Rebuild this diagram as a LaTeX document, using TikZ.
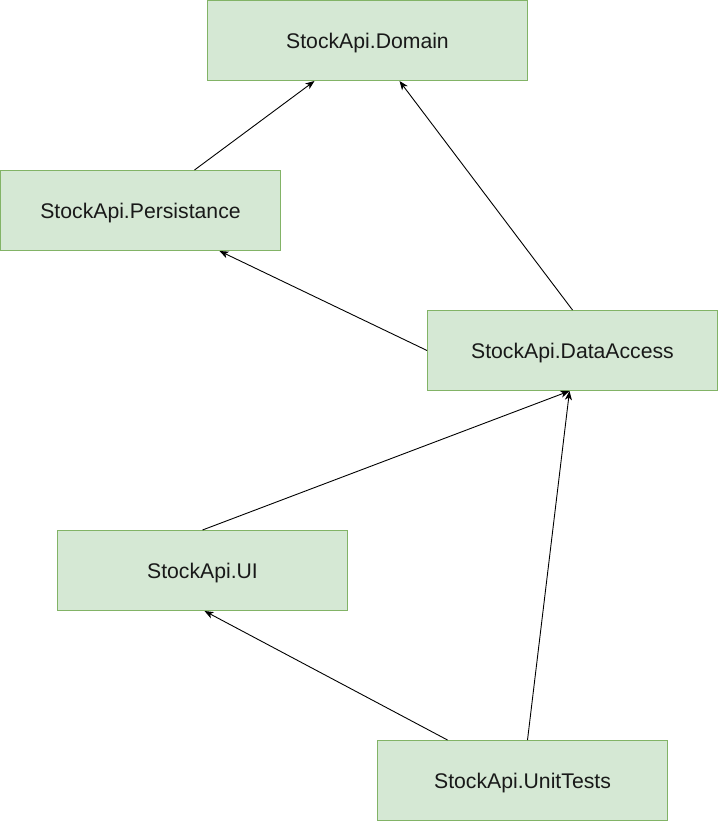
\documentclass[tikz,border=0pt]{standalone}
\usepackage{fontspec}
\setmainfont{Liberation Sans}
\usetikzlibrary{arrows.meta,calc}
\definecolor{boxfill}{HTML}{D5E8D4}
\definecolor{boxline}{HTML}{82B366}
\begin{document}
\begin{tikzpicture}[x=1pt,y=-1pt,
  box/.style={draw=boxline,fill=boxfill,line width=1pt,minimum height=80pt,inner sep=0pt,
    text depth=0pt,font=\fontsize{21.2}{25}\selectfont,text=black!90},
  arr/.style={line width=0.9pt,-{Stealth[length=9pt,width=7pt,inset=2.5pt]}}]
\useasboundingbox (0,0) rectangle (718,821);
\node[box,minimum width=320pt] (dom) at (367.5,40.5) {StockApi.Domain};
\node[box,minimum width=280pt] (per) at (140.5,210.5) {StockApi.Persistance};
\node[box,minimum width=290pt] (da) at (572.5,350.5) {StockApi.DataAccess};
\node[box,minimum width=290pt] (ui) at (202.5,570.5) {StockApi.UI};
\node[box,minimum width=290pt] (ut) at (522.5,780.5) {StockApi.UnitTests};
\draw[arr] ($(per.north)+(54,0)$) -- ($(dom.south)+(-53,0)$);
\draw[arr] (da.north) -- ($(dom.south)+(32,0)$);
\draw[arr] (da.west) -- ($(per.south)+(79,0)$);
\draw[arr] (ui.north) -- ($(da.south)+(-3,0)$);
\draw[arr] ($(ut.north)+(5,0)$) -- ($(da.south)+(-3,0)$);
\draw[arr] ($(ut.north)+(-75,0)$) -- ($(ui.south)+(2,0)$);
\end{tikzpicture}
\end{document}
